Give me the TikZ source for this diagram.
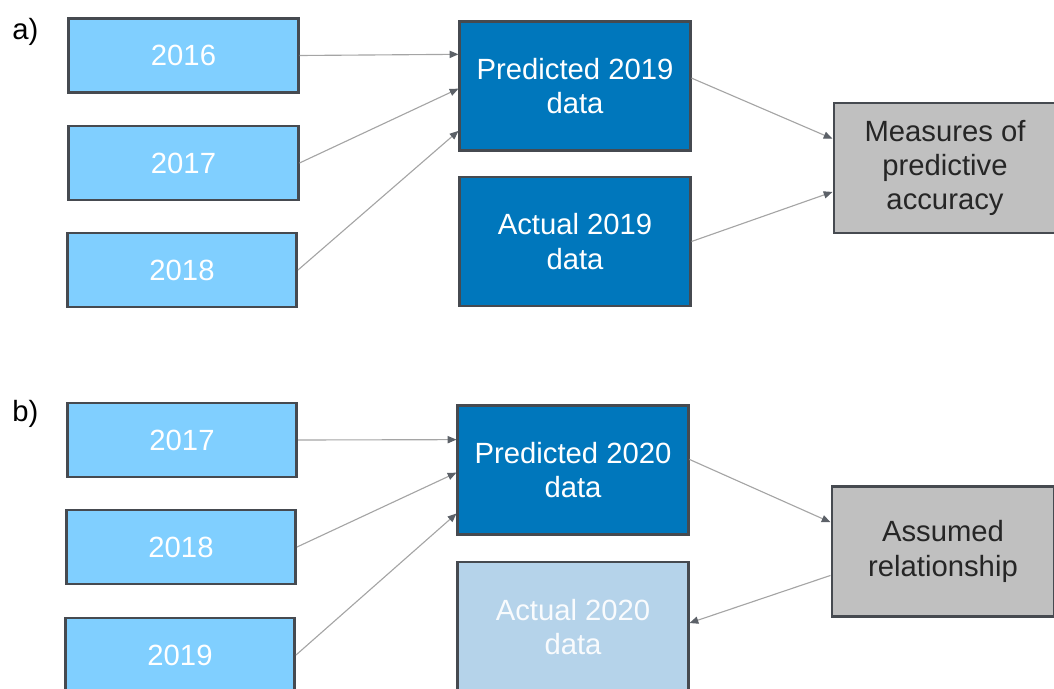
\documentclass[tikz,border=0pt]{standalone}
\usepackage{fontspec}
\setmainfont{Liberation Sans}
\usetikzlibrary{calc,arrows.meta}

\definecolor{yearblue}{HTML}{80CFFF}
\definecolor{datablue}{HTML}{0077BC}
\definecolor{paleblue}{HTML}{B5D3EA}
\definecolor{boxgray}{HTML}{C0C0C0}
\definecolor{edgegray}{HTML}{464A50}
\definecolor{linegray}{HTML}{A5A5A5}
\definecolor{tipgray}{HTML}{5C6168}

\tikzset{
  box/.style={draw=edgegray, line width=2.1pt, rectangle, align=center, inner sep=0pt,
    font=\fontsize{20.8}{24.5}\selectfont},
  yearbox/.style={box, fill=yearblue, text=white, minimum width=5.725cm, minimum height=1.85cm},
  databox/.style={box, fill=datablue, text=white, minimum width=5.75cm, minimum height=3.225cm},
  futurebox/.style={box, fill=paleblue, text=white!92!paleblue, minimum width=5.75cm, minimum height=3.25cm},
  resultbox/.style={box, fill=boxgray, text=black!85, minimum width=5.55cm, minimum height=3.25cm},
  partlabel/.style={anchor=base west, inner sep=0pt, font=\fontsize{20.8}{24.5}\selectfont},
  conn/.style={draw=linegray, line width=0.8pt, -{Triangle[length=0.22cm, width=0.18cm, color=tipgray]}}
}

\begin{document}
\begin{tikzpicture}[x=0.025cm, y=-0.025cm]
  \useasboundingbox (0, 0) rectangle (1054, 689);
  \clip (0, 0) rectangle (1054, 689);

  % a) checking the predictions against 2019
  \node [partlabel] (lbla) at (12, 40) {a)};
  \node [yearbox] (a16) at (183.5, 55.5) {2016};
  \node [yearbox] (a17) at (183.5, 163) {2017};
  \node [yearbox] (a18) at (182, 270) {2018};
  \node [databox] (p19) at (575, 86) {Predicted 2019\\data};
  \node [databox] (r19) at (575, 241.5) {Actual 2019\\data};
  \node [resultbox] (acc) at (945, 168) {Measures of\\predictive\\accuracy};

  \draw [conn] (a16.east) -- ($(p19.north west)!0.26!(p19.south west)$);
  \draw [conn] (a17.east) -- ($(p19.north west)!0.52!(p19.south west)$);
  \draw [conn] (a18.east) -- ($(p19.north west)!0.84!(p19.south west)$);
  \draw [conn] ($(p19.north east)!0.44!(p19.south east)$) -- ($(acc.north west)!0.28!(acc.south west)$);
  \draw [conn] (r19.east) -- ($(acc.north west)!0.68!(acc.south west)$);

  % b) projecting 2020
  \node [partlabel] (lblb) at (12, 421) {b)};
  \node [yearbox] (b17) at (182, 440) {2017};
  \node [yearbox] (b18) at (181, 547) {2018};
  \node [yearbox] (b19) at (180, 655) {2019};
  \node [databox] (p20) at (573, 470) {Predicted 2020\\data};
  \node [futurebox] (r20) at (573, 627) {Actual 2020\\data};
  \node [resultbox] (rel) at (943, 551.5) {Assumed\\relationship};

  \draw [conn] (b17.east) -- ($(p20.north west)!0.27!(p20.south west)$);
  \draw [conn] (b18.east) -- ($(p20.north west)!0.52!(p20.south west)$);
  \draw [conn] (b19.east) -- ($(p20.north west)!0.83!(p20.south west)$);
  \draw [conn] ($(p20.north east)!0.42!(p20.south east)$) -- ($(rel.north west)!0.28!(rel.south west)$);
  \draw [conn] ($(rel.north west)!0.68!(rel.south west)$) -- ($(r20.north east)!0.47!(r20.south east)$);
\end{tikzpicture}
\end{document}
